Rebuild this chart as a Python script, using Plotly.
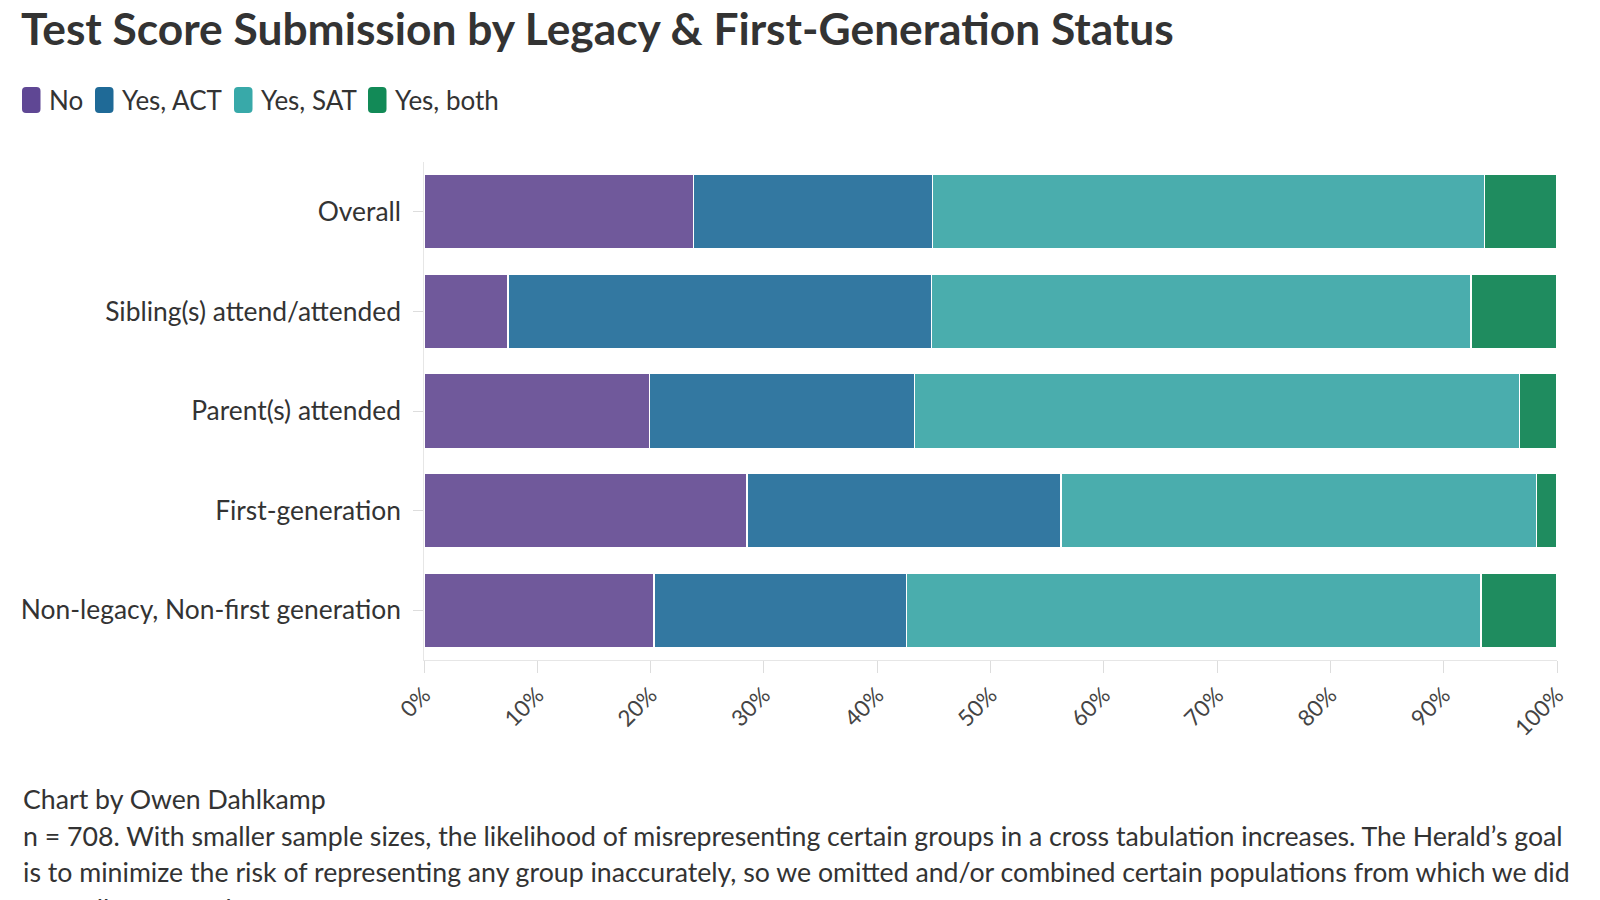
import plotly.graph_objects as go

categories = ["Overall", "Sibling(s) attend/attended", "Parent(s) attended",
              "First-generation", "Non-legacy, Non-first generation"]
series_names = ["No", "Yes, ACT", "Yes, SAT", "Yes, both"]
no_vals = [23.8, 7.4, 19.9, 28.5, 20.3]
act_vals = [21.1, 37.4, 23.4, 27.7, 22.3]
sat_vals = [48.7, 47.6, 53.4, 42.0, 50.7]
both_vals = [6.4, 7.6, 3.3, 1.8, 6.7]
tick_vals = [0, 10, 20, 30, 40, 50, 60, 70, 80, 90, 100]
tick_text = [f"{v}%" for v in tick_vals]

bar_colors = ["#70599b", "#3378a1", "#4aadad", "#1f8c5f"]
swatch_colors = ["#5f4794", "#1f6a97", "#38a9a9", "#128a57"]
FONT = "Lato"

W, H = 1600, 900
L, R, T, B = 424, 43, 162, 240
pw = W - L - R
ph = H - T - B


def px_x(x):
    return (x - L) / pw


def px_y(y):
    return (H - B - y) / ph


fig = go.Figure()
for name, vals, col in zip(series_names, [no_vals, act_vals, sat_vals, both_vals], bar_colors):
    fig.add_trace(go.Bar(
        y=categories, x=vals, name=name, orientation="h",
        marker=dict(color=col, line=dict(color="white", width=1.5)),
    ))

# manual legend with rounded swatches
legend_x = [22, 95, 234, 368]
shapes = []
annotations = []
for name, col, lx in zip(series_names, swatch_colors, legend_x):
    x0, x1 = lx, lx + 18.5
    y0, y1 = 87, 113
    r = 4
    path = (f"M {px_x(x0 + r)},{px_y(y0)} L {px_x(x1 - r)},{px_y(y0)} "
            f"Q {px_x(x1)},{px_y(y0)} {px_x(x1)},{px_y(y0 + r)} "
            f"L {px_x(x1)},{px_y(y1 - r)} Q {px_x(x1)},{px_y(y1)} {px_x(x1 - r)},{px_y(y1)} "
            f"L {px_x(x0 + r)},{px_y(y1)} Q {px_x(x0)},{px_y(y1)} {px_x(x0)},{px_y(y1 - r)} "
            f"L {px_x(x0)},{px_y(y0 + r)} Q {px_x(x0)},{px_y(y0)} {px_x(x0 + r)},{px_y(y0)} Z")
    shapes.append(dict(type="path", path=path, xref="paper", yref="paper",
                       fillcolor=col, line=dict(width=0), layer="above"))
    annotations.append(dict(
        text=name, xref="paper", yref="paper", x=px_x(lx + 25), y=px_y(100),
        xanchor="left", yanchor="middle", showarrow=False,
        font=dict(family=FONT, size=26, color="#333333"),
    ))

footer = [
    "Chart by Owen Dahlkamp",
    "n = 708. With smaller sample sizes, the likelihood of misrepresenting certain groups in a cross tabulation increases. The Herald’s goal",
    "is to minimize the risk of representing any group inaccurately, so we omitted and/or combined certain populations from which we did",
    "not collect enough responses.",
]
for i, line in enumerate(footer):
    ypix = 799 + i * 36.5
    annotations.append(dict(
        text=line, xref="paper", yref="paper",
        x=px_x(21), y=px_y(ypix),
        xanchor="left", yanchor="middle", showarrow=False,
        font=dict(family=FONT, size=26.7, color="#333333"),
    ))

fig.update_layout(
    width=W, height=H,
    barmode="stack", bargap=0.25,
    plot_bgcolor="white", paper_bgcolor="white",
    margin=dict(l=L, r=R, t=T, b=B, autoexpand=False),
    title=dict(text="<b>Test Score Submission by Legacy &amp; First-Generation Status</b>",
               xref="container", yref="container", x=21 / W, xanchor="left",
               y=1 - 29 / H, yanchor="middle",
               font=dict(family=FONT, size=44.3, color="#333333")),
    showlegend=False,
    xaxis=dict(range=[0, 100], tickvals=tick_vals, ticktext=tick_text,
               tickangle=-45, showgrid=False, zeroline=False,
               ticks="outside", ticklen=12, tickcolor="#dddddd",
               showline=True, linecolor="#e6e6e6", linewidth=1,
               tickfont=dict(family=FONT, size=22.5, color="#444444"),
               fixedrange=True),
    yaxis=dict(categoryorder="array", categoryarray=categories[::-1],
               showgrid=False, zeroline=False, ticks="outside", ticklen=10,
               tickcolor="#dddddd", showline=True, linecolor="#e6e6e6",
               tickfont=dict(family=FONT, size=26.4, color="#333333"),
               ticksuffix=" "),
    shapes=shapes,
    annotations=annotations,
)

fig.write_html("out.html", config={"displayModeBar": False},
               post_script="document.body.style.margin='0';document.body.style.overflow='hidden';")
